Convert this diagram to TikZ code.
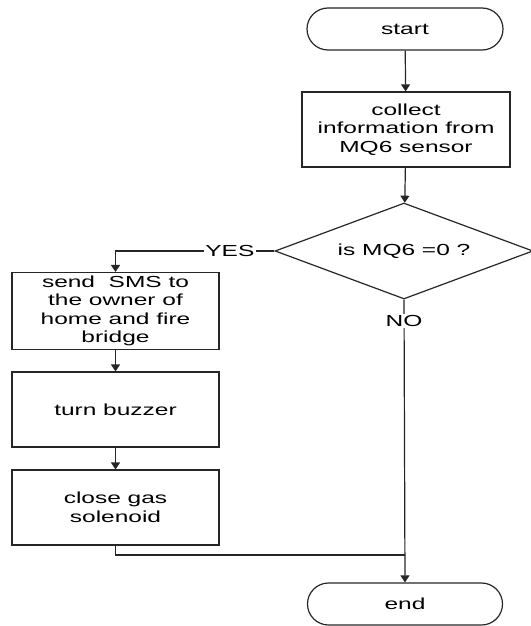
\documentclass[tikz,border=0pt]{standalone}
\usepackage{fontspec}
\setmainfont{Liberation Sans}[FakeStretch=1.53]
\usetikzlibrary{shapes.geometric,arrows.meta}
\begin{document}
\begin{tikzpicture}[x=1pt,y=-1pt,
  font=\fontsize{16}{18.5}\selectfont,
  line/.style={line width=1.2pt, draw=black!85},
  flow/.style={line, -{Triangle[length=7pt,width=9pt]}},
  terminal/.style={line, rectangle, rounded corners=21pt, minimum width=196pt,
    minimum height=42pt, inner sep=0pt},
  process/.style={line, rectangle, minimum width=207pt, minimum height=75pt,
    align=center, inner sep=0pt},
  decision/.style={line, diamond, shape aspect=2.69, minimum width=258pt,
    minimum height=96pt, inner sep=0pt},
  lbl/.style={fill=white, inner sep=1.5pt}
]
\useasboundingbox (0,0) rectangle (530,626);

% right column
\node[terminal] (start) at (405,29) {start};
\node[process, minimum width=208pt] (collect) at (406,129.5)
  {collect\\information from\\MQ6 sensor};
\node[decision] (check) at (404,251) {is MQ6 =0 ?};
\node[terminal, minimum width=195pt] (stop) at (405,604) {end};

% left column
\node[process, minimum height=77pt] (sms) at (115.5,311)
  {send\ \ SMS to\\the owner of\\home and fire\\bridge};
\node[process] (buzzer) at (115.5,409.5) {turn buzzer};
\node[process] (solenoid) at (115.5,507.5) {close gas\\solenoid};

\coordinate (join) at (405,555);

% connectors
\draw[flow] (start) -- (collect);
\draw[flow] (collect) -- (check);
\draw[flow] (check.west) -| node[lbl, pos=0.14] {YES} (sms.north);
\draw[flow] (check.south) -- node[lbl, pos=0.075] {NO} (stop.north);
\draw[flow] (sms) -- (buzzer);
\draw[flow] (buzzer) -- (solenoid);
\draw[line] (solenoid.south) |- (join);
\end{tikzpicture}
\end{document}
